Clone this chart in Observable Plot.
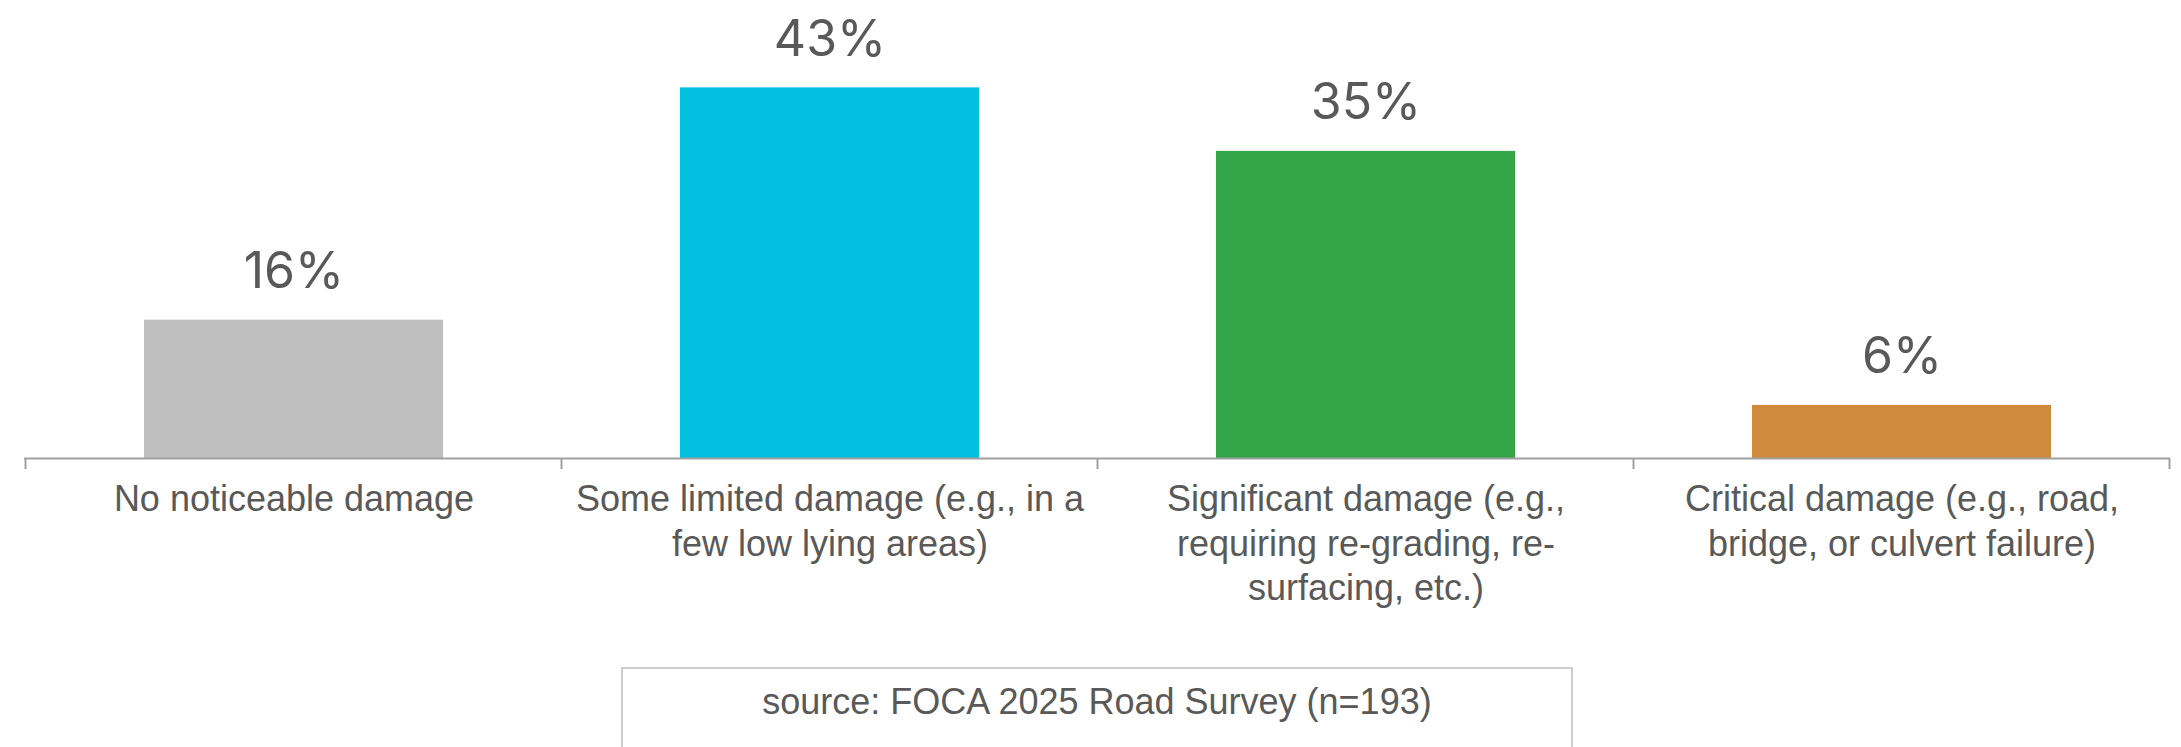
<!DOCTYPE html>
<html>
<head>
<meta charset="utf-8">
<script src="https://cdn.jsdelivr.net/npm/d3@7"></script>
<script src="https://cdn.jsdelivr.net/npm/@observablehq/plot@0.6"></script>
<style>
  html, body { margin: 0; padding: 0; background: #ffffff; }
  #chart svg { display: block; }
  #source {
    position: absolute;
    left: 621px;
    top: 667px;
    width: 952px;
    height: 120px;
    box-sizing: border-box;
    border: 2px solid #cdcdcd;
    padding-top: 15px;
    text-align: center;
    font-family: "Liberation Sans", Arial, sans-serif;
    font-size: 36px;
    line-height: 36px;
    color: #595959;
    background: #fff;
  }
</style>
</head>
<body>
<div id="chart"></div>
<div id="source">source: FOCA 2025 Road Survey (n=193)</div>
<script>
// ---- data ----
const categories = [
  "No noticeable damage",
  "Some limited damage",
  "Significant damage",
  "Critical damage"
];
const categoryLabels = [
  "No noticeable damage",
  "Some limited damage (e.g., in a\nfew low lying areas)",
  "Significant damage (e.g.,\nrequiring re-grading, re-\nsurfacing, etc.)",
  "Critical damage (e.g., road,\nbridge, or culvert failure)"
];
const values = [15.9, 42.6, 35.3, 6.1];
const colors = ["#bfbfbf", "#00bfdf", "#34a548", "#cf8a3c"];

const data = categories.map((c, i) => ({category: c, value: values[i], label: categoryLabels[i], color: colors[i]}));
const labelOf = new Map(data.map(d => [d.category, d.label]));
const pct = d3.format(".0f");

// boundary ticks between categories, positioned from the band scale
function boundaryTicks(index, scales) {
  const x = scales.x, y = scales.y;
  const bw = typeof x.bandwidth === "function" ? x.bandwidth() : x.bandwidth;
  const step = typeof x.step === "function" ? x.step() : bw;
  const y0 = y(0);
  const g = d3.create("svg:g").attr("stroke", "#a0a0a0").attr("stroke-width", 2);
  const xs = categories.map(c => x(c) + bw / 2 - step / 2);
  xs.push(x(categories[categories.length - 1]) + bw / 2 + step / 2);
  for (const px of xs) {
    g.append("line").attr("x1", px).attr("x2", px).attr("y1", y0).attr("y2", y0 + 11);
  }
  return g.node();
}

const chart = Plot.plot({
  width: 2181,
  height: 640,
  marginLeft: 24,
  marginRight: 11,
  marginTop: 23,
  marginBottom: 182,
  style: {fontFamily: "Liberation Sans, Arial, sans-serif", background: "#ffffff"},
  x: {domain: categories, paddingInner: 0.443, paddingOuter: 0.2215},
  y: {domain: [0, 50], axis: null},
  marks: [
    Plot.barY(data, {x: "category", y: "value", fill: "color"}),
    Plot.ruleY([0], {stroke: "#a0a0a0", strokeWidth: 2}),
    boundaryTicks,
    Plot.text(data, {
      x: "category", y: "value", text: d => `${pct(d.value)}%`,
      dy: -32, lineAnchor: "bottom", fontSize: 50,
      fontFamily: "Inter, sans-serif", fill: "#595959"
    }),
    Plot.axisX({
      tickSize: 0, tickPadding: 21, fontSize: 36, lineHeight: 1.24,
      color: "#595959", tickFormat: d => labelOf.get(d), label: null
    })
  ]
});
document.getElementById("chart").appendChild(chart);
</script>
</body>
</html>
